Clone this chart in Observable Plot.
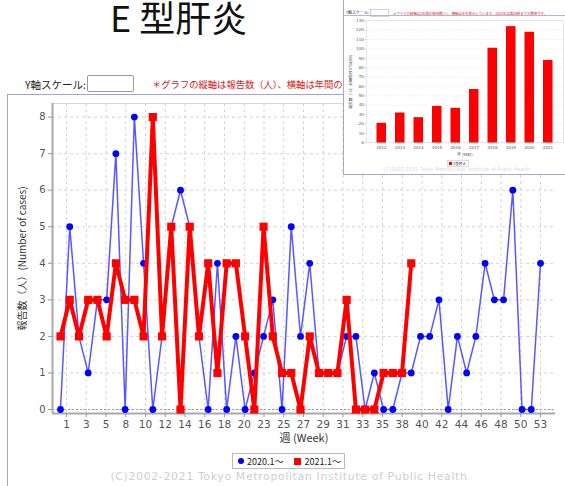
<!DOCTYPE html>
<html><head><meta charset="utf-8">
<script src="https://cdn.jsdelivr.net/npm/d3@7"></script>
<script src="https://cdn.jsdelivr.net/npm/@observablehq/plot@0.6"></script>
<style>
body{margin:0;width:565px;height:486px;overflow:hidden;background:#fff;position:relative;font-family:"DejaVu Sans",sans-serif}
.abs{position:absolute;white-space:nowrap}
#title{left:110px;top:0;font-family:"Noto Sans CJK JP";font-size:36px;line-height:32px;font-weight:400;color:#111}
#yscale{left:25px;top:77px;font-family:"Noto Sans CJK JP";font-size:10.5px;color:#222}
#ybox{left:87px;top:75px;width:47px;height:17px;border:1px solid #999;border-radius:2px;box-sizing:border-box}
#note{left:152px;top:77px;width:191px;overflow:hidden;font-family:"Noto Sans CJK JP";font-size:9.3px;color:#d42020}
#frameTop{left:7px;top:94px;width:336px;height:0;border-top:1.5px solid #a4a4d4}
#frameLeft{left:7px;top:94px;width:0;height:400px;border-left:1.5px solid #a4a4d4}
#main{left:0;top:94px}
#legend{left:232px;top:453px;width:113px;height:16px;border:1px solid #bbb;box-sizing:border-box;font-family:"Noto Sans CJK JP";font-size:9px;color:#222;display:flex;align-items:center}
#legend span{flex-shrink:0}
#copy{left:0;width:578px;text-align:center;top:470px;font-size:11px;letter-spacing:0.6px;color:#cfcfcf}
#inset{left:343px;top:0;width:222px;height:175px;background:#fff;overflow:hidden;border-left:1px solid #a8a8cc;border-bottom:1px solid #a8a8cc;box-sizing:border-box}
#inner{position:relative;width:444px;height:350px;transform:scale(0.5);transform-origin:0 0}
</style></head>
<body>
<div id="title" class="abs">E 型肝炎</div>
<div id="yscale" class="abs">Y軸スケール:</div>
<div id="ybox" class="abs"></div>
<div id="note" class="abs">＊グラフの縦軸は報告数（人）、横軸は年間の第</div>
<div id="frameTop" class="abs"></div>
<div id="frameLeft" class="abs"></div>
<div id="main" class="abs"></div>
<div id="legend" class="abs">
  <span style="display:inline-block;width:6px;height:6px;border-radius:50%;background:#0000ff;margin-left:5px;margin-right:3px"></span><span id="lg1"></span>
  <span style="display:inline-block;width:7px;height:7px;background:#ff0000;margin-left:11px;margin-right:3px"></span><span id="lg2"></span>
</div>
<div id="copy" class="abs"></div>
<div id="inset" class="abs"><div id="inner">
  <div class="abs" style="left:4px;top:19px;font-family:'Noto Sans CJK JP';font-size:8px;color:#333">Y軸スケール:</div>
  <div class="abs" style="left:52px;top:19px;width:38px;height:14px;border:1px solid #aaa;box-sizing:border-box"></div>
  <div class="abs" style="left:98px;top:21px;width:340px;overflow:hidden;font-family:'Noto Sans CJK JP';font-size:6.8px;color:#e02020">＊グラフの縦軸は1年間の報告数(人)、横軸は年を表示しています。2021年は第39週までの数値です。</div>
  <div class="abs" style="left:0;top:30px;width:444px;border-top:2px solid #b4b4dc"></div>
  <div id="bars" class="abs" style="left:0;top:30px"></div>
  <div class="abs" style="left:206px;top:320px;width:44px;height:13px;border:1px solid #bbb;box-sizing:border-box;font-family:'Noto Sans CJK JP';font-size:7px;color:#222;display:flex;align-items:center">
    <span style="display:inline-block;flex-shrink:0;width:6px;height:6px;background:#ff0000;margin:0 3px 0 3px"></span>E型肝炎</div>
  <div id="copy2" class="abs" style="left:0;width:452px;text-align:center;top:333px;font-size:9px;letter-spacing:0.5px;color:#d8d8d8"></div>
</div></div>
<script>
// ---- main chart data ----
const weeks = d3.range(1, 54);
const cases2020 = [0,5,2,1,3,3,7,0,8,4, 0,2,5,6,5,2,0,4,0,2, 0,1,2,3,0,5,2,4,1,1, 1,2,2,0,1,0,0,1,1,2, 2,3,0,2,1,2,4,3,3,6, 0,0,4];
const cases2021 = [2,3,2,3,3,2,4,3,3,2, 8,2,5,0,5,2,4,1,4,4, 2,0,5,2,1,1,0,2,1,1, 1,3,0,0,0,1,1,1,4];
const weekTickLabels = ["1","3","5","8","10","12","14","16","18","20","23","25","27","29","31","33","35","38","40","42","44","46","48","50","53"];
const yTicks = [0,1,2,3,4,5,6,7,8];
const seriesNames = ["2020.1〜", "2021.1〜"];
const yTitle = "報告数（人）(Number of cases)";
const xTitle = "週 (Week)";
const copyright = "(C)2002-2021 Tokyo Metropolitan Institute of Public Health";

// ---- inset (annual) data ----
const years = ["2012","2013","2014","2015","2016","2017","2018","2019","2020","2021"];
const annual = [21,32,27,39,37,57,101,124,118,88];
const annualTicks = [0,10,20,30,40,50,60,70,80,90,100,110,120,130];
const insetXTitle = "年 (Year)";

document.getElementById("lg1").textContent = seriesNames[0];
document.getElementById("lg2").textContent = seriesNames[1];
document.getElementById("copy").textContent = copyright;
document.getElementById("copy2").textContent = copyright;

const d20 = weeks.map((w, i) => ({week: w, v: cases2020[i]}));
const d21 = cases2021.map((v, i) => ({week: weeks[i], v}));
const x0 = 0.1333, x1 = 54.625, y0 = -0.109, y1 = 8.372;
const tickPos = weekTickLabels.map((_, i) => 1.65 + i * (53 - 1.65) / (weekTickLabels.length - 1));
const labelMap = new Map(tickPos.map((p, i) => [p, weekTickLabels[i]]));

const main = Plot.plot({
  width: 565, height: 352,
  marginLeft: 52, marginRight: 10, marginTop: 9, marginBottom: 33,
  style: {fontFamily: "DejaVu Sans, sans-serif", fontSize: "10.5px", color: "#555", background: "transparent", overflow: "visible"},
  x: {domain: [x0, x1]},
  y: {domain: [y0, y1]},
  marks: [
    Plot.gridX(tickPos, {stroke: "#d4d4d4", strokeOpacity: 1, strokeDasharray: "3,3"}),
    Plot.gridY(yTicks, {stroke: "#d4d4d4", strokeOpacity: 1, strokeDasharray: "3,3"}),
    Plot.ruleY([0], {stroke: "#9a9ad8", strokeDasharray: "2,2", strokeWidth: 1}),
    Plot.ruleY([y1], {stroke: "#d8d8d8", strokeWidth: 1}),
    Plot.ruleX([x0], {stroke: "#aaa", strokeWidth: 2}),
    Plot.ruleY([y0], {stroke: "#aaa", strokeWidth: 2}),
    Plot.axisY({ticks: yTicks, tickSize: 4, tickPadding: 3, label: null, stroke: "#999", fontSize: 10}),
    Plot.axisX({ticks: tickPos, tickFormat: d => labelMap.get(d), tickSize: 4, tickPadding: 3, label: null, stroke: "#999"}),
    Plot.line(d20, {x: "week", y: "v", stroke: "#5858ff", strokeWidth: 1.5}),
    Plot.dot(d20, {x: "week", y: "v", fill: "#0000ff", r: 3.4}),
    Plot.line(d21, {x: "week", y: "v", stroke: "#ff0000", strokeWidth: 4}),
    Plot.dot(d21, {x: "week", y: "v", symbol: "square", fill: "#ff0000", r: 4.6}),
    Plot.text([xTitle], {frameAnchor: "bottom", lineAnchor: "middle", dy: 25, fontSize: 11, fill: "#333", fontFamily: "Noto Sans CJK JP"}),
    Plot.text([yTitle], {frameAnchor: "left", textAnchor: "middle", rotate: -90, dx: -30, fontSize: 10, fill: "#333", fontFamily: "Noto Sans CJK JP"})
  ]
});
document.getElementById("main").appendChild(main);

const aData = years.map((y, i) => ({year: y, n: annual[i]}));
const bars = Plot.plot({
  width: 444, height: 290,
  marginLeft: 44, marginRight: 6, marginTop: 11, marginBottom: 35,
  style: {fontFamily: "DejaVu Sans, sans-serif", fontSize: "8px", color: "#555", background: "transparent", overflow: "visible"},
  x: {domain: years, padding: 0.48},
  y: {domain: [0, 130]},
  marks: [
    Plot.gridY(annualTicks, {stroke: "#e2e2e2", strokeOpacity: 1, strokeDasharray: "3,3"}),
    Plot.frame({stroke: "#d0d0d0"}),
    Plot.barY(aData, {x: "year", y: "n", fill: "#ff0000"}),
    Plot.axisY({ticks: annualTicks, tickSize: 3, tickPadding: 2, label: null, stroke: "#999"}),
    Plot.axisX({tickSize: 3, tickPadding: 3, label: null, stroke: "#999"}),
    Plot.text([insetXTitle], {frameAnchor: "bottom", lineAnchor: "middle", dy: 23, fontSize: 8, fill: "#444", fontFamily: "Noto Sans CJK JP"}),
    Plot.text([yTitle], {frameAnchor: "left", textAnchor: "middle", rotate: -90, dx: -30, fontSize: 7.5, fill: "#444", fontFamily: "Noto Sans CJK JP"})
  ]
});
document.getElementById("bars").appendChild(bars);
</script>
</body></html>
